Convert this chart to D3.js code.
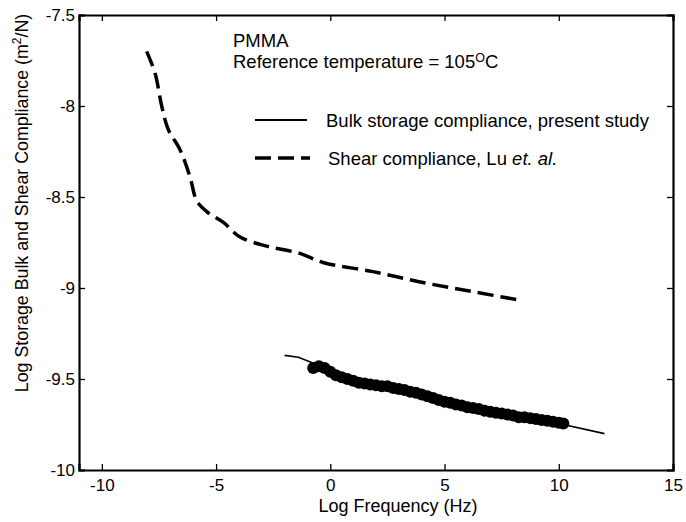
<!DOCTYPE html>
<html>
<head>
<meta charset="utf-8">
<script src="https://cdn.jsdelivr.net/npm/d3@7"></script>
<style>
  body { margin: 0; background: white; }
  svg text { font-family: "Liberation Sans", Arial, Helvetica, sans-serif; fill: black; }
</style>
</head>
<body>
<div id="canvas"></div>
<script>
"use strict"

let drawingWidth = 686;
let drawingHeight = 522;
let margin = { top: 15, right: 13, bottom: 52, left: 79 };

// x ticks and y ticks
let xTicks = [-10, -5, 0, 5, 10, 15];
let yTicks = [-7.5, -8, -8.5, -9, -9.5, -10];

// shear compliance, Lu et al. (dashed)
let shearX = [-8.04, -7.67, -7.38, -7.09, -6.58, -6.14, -5.85, -5.41, -4.68, -3.95, -2.79, -1.33, -0.32, 1.87, 4.05, 6.24, 8.43];
let shearY = [-7.70, -7.82, -8.00, -8.13, -8.24, -8.39, -8.52, -8.58, -8.64, -8.72, -8.77, -8.81, -8.86, -8.91, -8.97, -9.02, -9.07];

// bulk storage compliance, fitted curve (thin line)
let fitX = [-2, -1.4, -0.9, 0, 2, 4, 6, 8, 10, 12];
let fitY = [-9.37, -9.38, -9.405, -9.45, -9.53, -9.59, -9.65, -9.70, -9.745, -9.80];

// bulk storage compliance, measured points (markers)
let bulkX = [-0.75, -0.5, -0.25, 0, 0.25, 0.5, 0.75, 1, 1.25, 1.5, 1.75, 2, 2.25, 2.5, 2.75, 3,
             3.25, 3.5, 3.75, 4, 4.25, 4.5, 4.75, 5, 5.25, 5.5, 5.75, 6, 6.25, 6.5, 6.75, 7,
             7.25, 7.5, 7.75, 8, 8.25, 8.5, 8.75, 9, 9.25, 9.5, 9.75, 10, 10.2];
let bulkY = [-9.44, -9.43, -9.44, -9.46, -9.48, -9.49, -9.50, -9.51, -9.52, -9.525, -9.53, -9.535, -9.54, -9.54, -9.55, -9.555,
             -9.56, -9.57, -9.575, -9.585, -9.595, -9.605, -9.615, -9.625, -9.63, -9.64, -9.645, -9.655, -9.66, -9.665, -9.675, -9.68,
             -9.685, -9.69, -9.695, -9.70, -9.71, -9.71, -9.715, -9.72, -9.725, -9.73, -9.735, -9.74, -9.745];

let drawing = d3.select("#canvas")
    .append("svg")
    .attr("width", drawingWidth)
    .attr("height", drawingHeight);

drawing.append("rect")
    .attr("width", drawingWidth)
    .attr("height", drawingHeight)
    .attr("fill", "white");

let x = d3.scaleLinear().domain([-11, 15]).range([margin.left, drawingWidth - margin.right]);
let y = d3.scaleLinear().domain([-10, -7.5]).range([drawingHeight - margin.bottom, margin.top]);

/* axes, ticks pointing inward on all four sides */
let fmt = d => String(d);

drawing.append("g")
    .attr("transform", `translate(0,${y(-10)})`)
    .call(d3.axisBottom(x).tickValues(xTicks).tickSize(-6).tickPadding(9).tickFormat(fmt));

drawing.append("g")
    .attr("transform", `translate(0,${y(-7.5)})`)
    .call(d3.axisTop(x).tickValues(xTicks).tickSize(-6).tickFormat(""));

drawing.append("g")
    .attr("transform", `translate(${x(-11)},0)`)
    .call(d3.axisLeft(y).tickValues(yTicks).tickSize(-6).tickPadding(4).tickFormat(fmt));

drawing.append("g")
    .attr("transform", `translate(${x(15)},0)`)
    .call(d3.axisRight(y).tickValues(yTicks).tickSize(-6).tickFormat(""));

drawing.selectAll(".domain").attr("stroke", "black").attr("stroke-width", 2.2);
drawing.selectAll(".tick line").attr("stroke", "black").attr("stroke-width", 1.3);
drawing.selectAll(".tick text").attr("font-size", 17).attr("fill", "black");

/* axis labels */
drawing.append("text")
    .attr("x", 398)
    .attr("y", 512)
    .attr("text-anchor", "middle")
    .attr("font-size", 18)
    .text("Log Frequency (Hz)");

let yLabel = drawing.append("text")
    .attr("transform", "translate(28,203) rotate(-90)")
    .attr("text-anchor", "middle")
    .attr("font-size", 17.8);
yLabel.append("tspan").text("Log Storage Bulk and Shear Compliance (m");
yLabel.append("tspan").attr("font-size", 12).attr("dy", -7).text("2");
yLabel.append("tspan").attr("dy", 7).text("/N)");

/* data */
let line = d3.line().x(d => x(d[0])).y(d => y(d[1]));

drawing.append("path")
    .attr("d", line(d3.zip(fitX, fitY)))
    .attr("fill", "none")
    .attr("stroke", "black")
    .attr("stroke-width", 1.6);

drawing.append("g").selectAll("circle")
    .data(d3.zip(bulkX, bulkY))
    .join("circle")
    .attr("cx", d => x(d[0]))
    .attr("cy", d => y(d[1]))
    .attr("r", 6)
    .attr("fill", "black");

drawing.append("path")
    .attr("d", line.curve(d3.curveCatmullRom)(d3.zip(shearX, shearY)))
    .attr("fill", "none")
    .attr("stroke", "black")
    .attr("stroke-width", 3.5)
    .attr("stroke-dasharray", "16,7");

/* annotations */
drawing.append("text")
    .attr("x", 233)
    .attr("y", 47)
    .attr("font-size", 18.5)
    .text("PMMA");

let refText = drawing.append("text")
    .attr("x", 233)
    .attr("y", 68)
    .attr("font-size", 18.5);
refText.append("tspan").text("Reference temperature = 105");
refText.append("tspan").attr("font-size", 12.5).attr("dy", -6).text("O");
refText.append("tspan").attr("dy", 6).text("C");

/* legend */
drawing.append("line")
    .attr("x1", 255).attr("x2", 307)
    .attr("y1", 120).attr("y2", 120)
    .attr("stroke", "black").attr("stroke-width", 2);

drawing.append("text")
    .attr("x", 326)
    .attr("y", 127)
    .attr("font-size", 18.5)
    .text("Bulk storage compliance, present study");

drawing.append("line")
    .attr("x1", 255).attr("x2", 310)
    .attr("y1", 158).attr("y2", 158)
    .attr("stroke", "black").attr("stroke-width", 3.5)
    .attr("stroke-dasharray", "16,7");

let shearLabel = drawing.append("text")
    .attr("x", 328)
    .attr("y", 165)
    .attr("font-size", 18.5);
shearLabel.append("tspan").text("Shear compliance, Lu ");
shearLabel.append("tspan").attr("font-style", "italic").text("et. al.");
</script>
</body>
</html>
